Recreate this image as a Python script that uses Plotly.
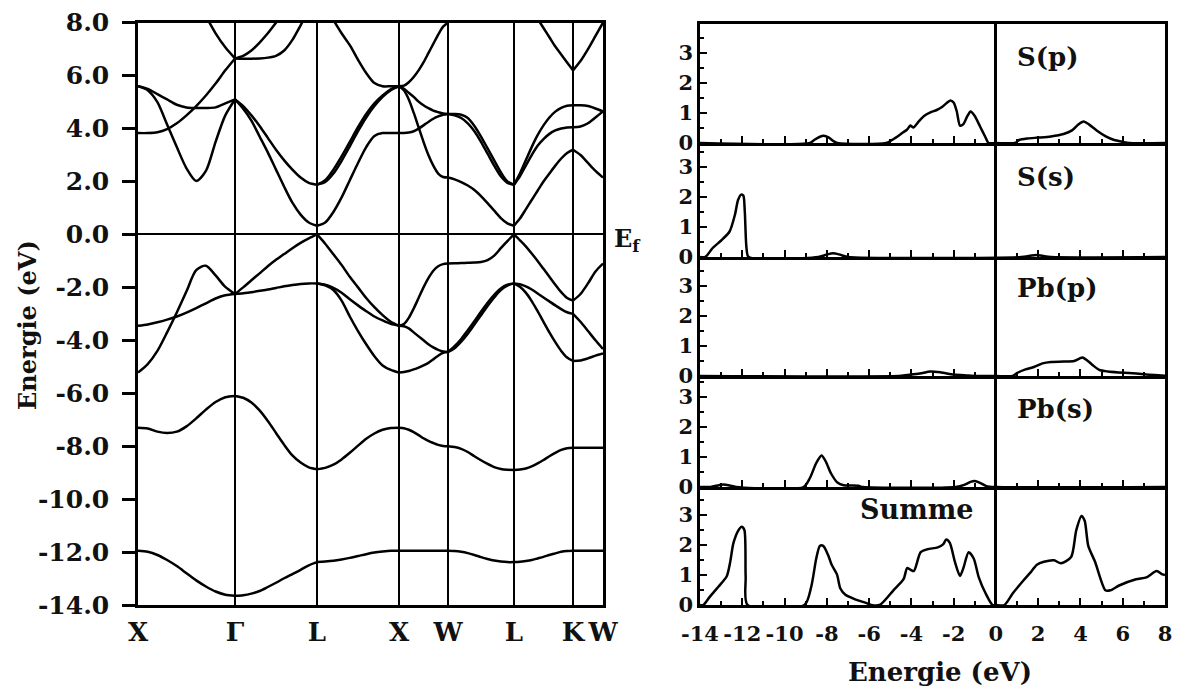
import plotly.graph_objects as go

W, H = 1184, 693
FONT = "DejaVu Serif"

# ---------------- band structure data ----------------
KLABELS = ["X", "Γ", "L", "X", "W", "L", "K", "W"]
KPOS = [0.0, 0.97, 1.79, 2.61, 3.10, 3.76, 4.35, 4.65]

F11 = [0.0, 0.1, 0.2, 0.3, 0.4, 0.5, 0.6, 0.7, 0.8, 0.9, 1.0]
F5 = [0.0, 0.25, 0.5, 0.75, 1.0]

BANDS_X_G = [
    [-11.95, -11.99, -12.11, -12.30, -12.53, -12.80, -13.07, -13.30, -13.49, -13.61, -13.65],
    [-7.30, -7.33, -7.45, -7.50, -7.45, -7.25, -6.95, -6.62, -6.33, -6.15, -6.10],
    [-5.22, -4.90, -4.40, -3.70, -2.95, -2.15, -1.35, -1.18, -1.55, -1.98, -2.25],
    [-3.45, -3.40, -3.32, -3.22, -3.10, -2.95, -2.78, -2.60, -2.42, -2.30, -2.25],
    [3.83, 3.83, 3.86, 3.98, 4.20, 4.50, 4.85, 5.25, 5.70, 6.20, 6.65],
    [5.60, 5.45, 5.00, 4.15, 3.30, 2.50, 2.02, 2.40, 3.50, 4.50, 5.10],
    [5.60, 5.50, 5.30, 5.10, 4.90, 4.80, 4.78, 4.78, 4.80, 4.95, 5.10],
    [None, None, None, None, None, None, None, 8.25, 7.60, 7.07, 6.65],
]
BANDS_G_L = [
    [-13.65, -13.63, -13.57, -13.47, -13.32, -13.16, -12.99, -12.83, -12.67, -12.50, -12.38],
    [-6.10, -6.17, -6.35, -6.65, -7.05, -7.50, -7.95, -8.35, -8.62, -8.80, -8.87],
    [-2.25, -2.00, -1.73, -1.47, -1.20, -0.96, -0.74, -0.52, -0.32, -0.15, 0.00],
    [-2.25, -2.22, -2.18, -2.13, -2.08, -2.02, -1.96, -1.91, -1.87, -1.85, -1.85],
    [5.10, 4.85, 4.50, 4.10, 3.65, 3.20, 2.80, 2.45, 2.15, 1.95, 1.88],
    [5.10, 4.75, 4.30, 3.70, 3.10, 2.45, 1.80, 1.20, 0.75, 0.45, 0.33],
    [6.65, 6.75, 6.95, 7.25, 7.60, 8.00, 8.40, None, None, None, None],
    [6.65, 6.64, 6.64, 6.65, 6.68, 6.75, 6.95, 7.35, 7.90, 8.50, None],
]
BANDS_L_X = [
    [-12.38, -12.36, -12.33, -12.28, -12.22, -12.15, -12.08, -12.02, -11.98, -11.95, -11.95],
    [-8.87, -8.82, -8.70, -8.50, -8.25, -7.98, -7.72, -7.52, -7.38, -7.31, -7.30],
    [0.00, -0.35, -0.75, -1.15, -1.60, -2.00, -2.40, -2.75, -3.05, -3.30, -3.45],
    [-1.85, -1.90, -2.02, -2.20, -2.45, -2.68, -2.90, -3.10, -3.25, -3.38, -3.45],
    [-1.85, -1.92, -2.10, -2.50, -3.10, -3.65, -4.15, -4.60, -4.95, -5.12, -5.22],
    [1.88, 2.05, 2.45, 2.95, 3.50, 4.05, 4.55, 4.95, 5.25, 5.48, 5.60],
    [1.88, 1.98, 2.30, 2.78, 3.33, 3.90, 4.42, 4.85, 5.20, 5.45, 5.60],
    [0.33, 0.45, 0.85, 1.40, 2.05, 2.70, 3.30, 3.72, 3.83, 3.83, 3.83],
    [None, None, 8.10, 7.60, 7.15, 6.60, 6.10, 5.72, 5.60, 5.60, 5.60],
]
BANDS_X_W = [
    [-11.95, -11.95, -11.95, -11.95, -11.95, -11.95, -11.95, -11.95, -11.95, -11.95, -11.95],
    [-7.30, -7.32, -7.38, -7.47, -7.58, -7.70, -7.80, -7.88, -7.95, -7.99, -8.00],
    [-3.45, -3.38, -3.15, -2.80, -2.40, -2.00, -1.65, -1.37, -1.20, -1.12, -1.10],
    [-3.45, -3.47, -3.55, -3.70, -3.85, -4.00, -4.15, -4.27, -4.36, -4.42, -4.44],
    [-5.22, -5.20, -5.16, -5.10, -5.03, -4.95, -4.85, -4.72, -4.58, -4.47, -4.44],
    [5.60, 5.62, 5.75, 5.95, 6.20, 6.50, 6.85, 7.20, 7.55, 7.85, 8.00],
    [5.60, 5.50, 5.35, 5.20, 5.02, 4.88, 4.77, 4.68, 4.62, 4.57, 4.55],
    [5.60, 5.45, 5.10, 4.60, 4.05, 3.50, 3.00, 2.60, 2.30, 2.17, 2.15],
    [3.83, 3.83, 3.85, 3.90, 4.00, 4.12, 4.25, 4.37, 4.46, 4.52, 4.55],
]
BANDS_W_L = [
    [-11.95, -11.96, -11.99, -12.04, -12.11, -12.19, -12.26, -12.32, -12.36, -12.38, -12.38],
    [-8.00, -8.03, -8.10, -8.22, -8.38, -8.53, -8.67, -8.79, -8.86, -8.89, -8.90],
    [-1.10, -1.09, -1.08, -1.07, -1.06, -1.04, -0.97, -0.80, -0.52, -0.25, 0.00],
    [-4.44, -4.30, -4.05, -3.75, -3.40, -3.05, -2.70, -2.38, -2.10, -1.93, -1.85],
    [-4.44, -4.22, -3.95, -3.62, -3.28, -2.92, -2.58, -2.28, -2.04, -1.90, -1.85],
    [4.55, 4.55, 4.52, 4.40, 4.10, 3.70, 3.25, 2.80, 2.35, 2.00, 1.88],
    [4.55, 4.50, 4.40, 4.20, 3.90, 3.50, 3.05, 2.60, 2.20, 1.95, 1.88],
    [2.15, 2.08, 1.98, 1.85, 1.68, 1.45, 1.18, 0.90, 0.62, 0.42, 0.33],
]
BANDS_L_K = [
    [-12.38, -12.37, -12.34, -12.30, -12.24, -12.18, -12.11, -12.05, -11.99, -11.96, -11.95],
    [-8.90, -8.88, -8.84, -8.76, -8.65, -8.52, -8.38, -8.25, -8.14, -8.08, -8.06],
    [0.00, -0.22, -0.45, -0.72, -1.00, -1.30, -1.60, -1.90, -2.18, -2.40, -2.50],
    [-1.85, -1.88, -1.96, -2.08, -2.23, -2.38, -2.53, -2.68, -2.82, -2.94, -3.00],
    [-1.85, -1.98, -2.20, -2.52, -2.90, -3.30, -3.70, -4.07, -4.40, -4.65, -4.78],
    [1.88, 2.30, 2.80, 3.30, 3.75, 4.12, 4.42, 4.64, 4.78, 4.86, 4.88],
    [1.88, 2.20, 2.60, 3.00, 3.35, 3.60, 3.80, 3.93, 4.00, 4.04, 4.05],
    [0.33, 0.60, 0.95, 1.30, 1.65, 2.00, 2.30, 2.60, 2.87, 3.08, 3.20],
    [None, None, None, None, 8.15, 7.80, 7.45, 7.10, 6.80, 6.50, 6.20],
]
BANDS_K_W = [
    [-11.95, -11.95, -11.95, -11.95, -11.95],
    [-8.06, -8.06, -8.06, -8.06, -8.06],
    [-2.50, -2.25, -1.85, -1.40, -1.10],
    [-3.00, -3.30, -3.65, -4.00, -4.33],
    [-4.78, -4.76, -4.68, -4.58, -4.50],
    [4.88, 4.88, 4.85, 4.76, 4.65],
    [4.05, 4.08, 4.20, 4.42, 4.65],
    [3.20, 3.00, 2.70, 2.40, 2.15],
    [6.20, 6.55, 7.00, 7.50, 8.00],
]

E_TICKS = [-14, -12, -10, -8, -6, -4, -2, 0, 2, 4, 6, 8]
E_TICKTEXT = ["-14.0", "-12.0", "-10.0", "-8.0", "-6.0", "-4.0", "-2.0", "0.0", "2.0", "4.0", "6.0", "8.0"]

# ---------------- DOS data ----------------
DOS_LABELS = ["S(p)", "S(s)", "Pb(p)", "Pb(s)", "Summe"]

SP_E = [-14, -8.8, -8.6, -8.35, -8.15, -7.9, -7.7, -7.5, -5.2, -4.8, -4.4, -4.2, -4.05, -3.9, -3.65, -3.4,
        -3.1, -2.8, -2.55, -2.3, -2.15, -2.0, -1.85, -1.7, -1.55, -1.35, -1.2, -1.0, -0.75, -0.5, -0.35,
        0.0, 0.9, 1.1, 1.5, 2.0, 2.6, 3.2, 3.6, 3.9, 4.15, 4.4, 4.8, 5.2, 5.6, 6.0, 6.3, 8.0]
SP_V = [0, 0, 0.1, 0.2, 0.24, 0.18, 0.07, 0, 0, 0.15, 0.35, 0.45, 0.58, 0.52, 0.72, 0.9,
        1.02, 1.1, 1.2, 1.35, 1.42, 1.35, 1.05, 0.58, 0.62, 0.9, 1.05, 0.9, 0.55, 0.2, 0.0,
        0, 0, 0.1, 0.15, 0.18, 0.22, 0.3, 0.42, 0.62, 0.72, 0.62, 0.4, 0.22, 0.1, 0.04, 0, 0]

SS_E = [-14, -13.75, -13.4, -13.0, -12.6, -12.35, -12.2, -12.05, -11.95, -11.88, -11.8, -11.7,
        -8.4, -8.1, -7.8, -7.6, -7.3, -7.0, 1.2, 1.6, 1.9, 2.2, 2.6, 8.0]
SS_V = [0, 0, 0.3, 0.55, 0.85, 1.4, 1.9, 2.08, 2.05, 1.5, 0.3, 0,
        0, 0.06, 0.12, 0.12, 0.06, 0, 0, 0.04, 0.07, 0.04, 0, 0]

PBP_E = [-14, -4.6, -4.2, -3.6, -3.1, -2.6, -2.0, -1.4, -0.9, 0.0, 0.8, 1.0, 1.4, 1.8, 2.2, 2.6, 3.2,
         3.7, 3.95, 4.1, 4.35, 4.6, 4.9, 5.3, 5.8, 6.3, 7.0, 7.5, 8.0]
PBP_V = [0, 0, 0.03, 0.08, 0.15, 0.12, 0.05, 0.02, 0, 0, 0, 0.1, 0.22, 0.3, 0.42, 0.47, 0.48,
         0.5, 0.58, 0.62, 0.5, 0.35, 0.2, 0.15, 0.12, 0.1, 0.06, 0.03, 0.01]

PBS_E = [-14, -13.5, -13.1, -12.9, -12.6, -12.3, -9.1, -8.8, -8.5, -8.25, -8.05, -7.8, -7.5, -7.2,
         -6.9, -6.5, -6.3, -1.9, -1.5, -1.2, -1.0, -0.75, -0.45, 0.0, 8.0]
PBS_V = [0, 0, 0.06, 0.08, 0.05, 0, 0, 0.3, 0.8, 1.05, 0.85, 0.45, 0.15, 0.06,
         0.05, 0.04, 0, 0, 0.07, 0.17, 0.2, 0.14, 0.03, 0, 0]

SUM_E = [-14, -13.84, -13.53, -13.13, -12.74, -12.58, -12.42, -12.19, -12.03, -11.9, -11.84, -11.75,
         -9.06, -8.74, -8.5, -8.33, -8.17, -7.93, -7.77, -7.52, -7.36, -7.12, -6.63, -6.15, -5.9,
         -5.5, -4.85, -4.37, -4.2, -4.05, -3.88, -3.56, -3.24, -2.75, -2.5, -2.35, -2.18, -1.94,
         -1.7, -1.54, -1.29, -1.05, -0.81, -0.49, -0.16, 0.0, 0.4, 0.8, 1.29, 1.62, 1.94, 2.27,
         2.75, 3.07, 3.56, 3.8, 4.05, 4.2, 4.37, 4.69, 5.18, 5.42, 5.83, 6.63, 7.12, 7.6, 7.88, 8.0]
SUM_V = [0, 0, 0.28, 0.61, 0.95, 1.4, 2.06, 2.48, 2.61, 2.5, 0.95, 0,
         0, 0.6, 1.55, 1.97, 1.97, 1.65, 1.34, 1.02, 0.55, 0.34, 0.18, 0.07, 0,
         0, 0.49, 0.86, 1.23, 1.18, 1.13, 1.76, 1.86, 1.92, 2.02, 2.18, 2.07, 1.44,
         0.97, 1.23, 1.76, 1.55, 0.92, 0.39, 0, 0, 0, 0.39, 0.81, 1.07, 1.34, 1.44,
         1.49, 1.39, 1.6, 2.49, 2.97, 2.81, 1.97, 1.44, 0.49, 0.49, 0.65, 0.86, 0.92, 1.13, 1.02, 1.0]

DOS_E = [SP_E, SS_E, PBP_E, PBS_E, SUM_E]
DOS_V = [SP_V, SS_V, PBP_V, PBS_V, SUM_V]
DOS_XTICKS = [-14, -12, -10, -8, -6, -4, -2, 0, 2, 4, 6, 8]
DOS_XTICKTEXT = ["-14", "-12", "-10", "-8", "-6", "-4", "-2", "0", "2", "4", "6", "8"]
DOS_YTICKS = [0, 1, 2, 3]

# ---------------- layout geometry (pixels) ----------------
def px_x(x):
    return x / W

def px_y(y):
    return 1 - y / H

BAND_X0, BAND_X1 = 138, 603
BAND_Y0, BAND_Y1 = 22.7, 605
DOS_X0, DOS_X1 = 700, 1165
PANEL_EDGES = [24, 143, 257, 376, 487, 605]
PX_PER_UNIT = 30.0

fig = go.Figure()

segments = [
    (0, F11, BANDS_X_G), (1, F11, BANDS_G_L), (2, F11, BANDS_L_X), (3, F11, BANDS_X_W),
    (4, F11, BANDS_W_L), (5, F11, BANDS_L_K), (6, F5, BANDS_K_W),
]
for idx, fr, bands in segments:
    k0, k1 = KPOS[idx], KPOS[idx + 1]
    kx = [k0 + f * (k1 - k0) for f in fr]
    for band in bands:
        fig.add_trace(go.Scatter(x=kx, y=band, mode="lines", xaxis="x", yaxis="y",
                                 line=dict(color="black", width=2.5, shape="spline", smoothing=0.8),
                                 hoverinfo="skip", showlegend=False))

fig.update_layout(
    width=W, height=H, autosize=False,
    margin=dict(l=0, r=0, t=0, b=0, pad=0),
    paper_bgcolor="white", plot_bgcolor="white",
    showlegend=False,
    xaxis=dict(domain=[px_x(BAND_X0), px_x(BAND_X1)], range=[KPOS[0], KPOS[-1]], anchor="y",
               tickmode="array", tickvals=KPOS, ticktext=KLABELS, ticks="", tickangle=0,
               showgrid=True, gridcolor="black", gridwidth=2.2, zeroline=False,
               showline=True, mirror=True, linecolor="black", linewidth=2.5,
               tickfont=dict(family=FONT, size=26, color="#111", weight="bold"),
               ticklabelstandoff=2, automargin=False),
    yaxis=dict(domain=[px_y(BAND_Y1), px_y(BAND_Y0)], range=[-14, 8], anchor="x",
               tickmode="array", tickvals=E_TICKS, ticktext=E_TICKTEXT,
               ticks="outside", ticklen=13, tickwidth=2.5, tickcolor="black",
               showgrid=False, zeroline=True, zerolinecolor="black", zerolinewidth=2.2,
               showline=True, mirror=True, linecolor="black", linewidth=2.5,
               tickfont=dict(family=FONT, size=25, color="#111", weight="bold"),
               ticklabelstandoff=8, automargin=False),
)

for i in range(5):
    n = i + 2
    xa, ya = f"x{n}", f"y{n}"
    top, bot = PANEL_EDGES[i], PANEL_EDGES[i + 1]
    yr = (bot - top) / PX_PER_UNIT
    fig.add_trace(go.Scatter(x=DOS_E[i], y=DOS_V[i], mode="lines", xaxis=xa, yaxis=ya,
                             line=dict(color="black", width=2.5, shape="spline", smoothing=0.7),
                             hoverinfo="skip", showlegend=False))
    fig.layout[f"xaxis{n}"] = dict(
        domain=[px_x(DOS_X0), px_x(DOS_X1)], range=[-14, 8], anchor=ya,
        tickmode="array", tickvals=DOS_XTICKS, ticktext=DOS_XTICKTEXT, tickangle=0,
        ticks="inside", ticklen=7, tickwidth=2, tickcolor="black",
        minor=dict(tickmode="linear", tick0=-14, dtick=1, ticks="inside", ticklen=4,
                   tickwidth=1.5, tickcolor="black"),
        showticklabels=(i == 4), showgrid=False,
        zeroline=True, zerolinecolor="black", zerolinewidth=2.5,
        showline=True, mirror=(i == 0), linecolor="black", linewidth=2.5,
        tickfont=dict(family=FONT, size=21, color="#111", weight="bold"),
        ticklabelstandoff=8, automargin=False,
    )
    fig.layout[f"yaxis{n}"] = dict(
        domain=[px_y(bot), px_y(top)], range=[0, yr], anchor=xa,
        tickmode="array", tickvals=DOS_YTICKS, ticktext=[str(v) for v in DOS_YTICKS],
        ticks="inside", ticklen=7, tickwidth=2, tickcolor="black",
        minor=dict(tickmode="linear", tick0=0, dtick=0.5, ticks="inside", ticklen=4,
                   tickwidth=1.5, tickcolor="black"),
        showgrid=False, zeroline=False,
        showline=True, mirror=True, linecolor="black", linewidth=2.5,
        tickfont=dict(family=FONT, size=21, color="#111", weight="bold"),
        automargin=False,
    )

# outward major ticks under the bottom DOS panel
fig.layout["xaxis7"] = dict(
    domain=[px_x(DOS_X0), px_x(DOS_X1)], range=[-14, 8], anchor="y6", overlaying="x6",
    side="bottom", tickmode="array", tickvals=DOS_XTICKS, ticks="outside", ticklen=6,
    tickwidth=2, tickcolor="black", showticklabels=False, showgrid=False, zeroline=False,
    showline=False, automargin=False,
)

annots = []
label_pos = [(1015, 57), (1015, 177), (1015, 288), (1015, 409)]
for (lx, ly), txt in zip(label_pos, DOS_LABELS[:4]):
    annots.append(dict(x=px_x(lx), y=px_y(ly), xref="paper", yref="paper", text=txt,
                       showarrow=False, xanchor="left", yanchor="middle",
                       font=dict(family=FONT, size=26, color="#111", weight="bold")))
annots.append(dict(x=px_x(916), y=px_y(510), xref="paper", yref="paper", text=DOS_LABELS[4],
                   showarrow=False, xanchor="center", yanchor="middle",
                   font=dict(family=FONT, size=27, color="#111", weight="bold")))
annots.append(dict(x=px_x(27), y=px_y(325), xref="paper", yref="paper", text="Energie (eV)",
                   textangle=-90, showarrow=False, xanchor="center", yanchor="middle",
                   font=dict(family=FONT, size=24, color="#111", weight="bold")))
annots.append(dict(x=px_x(940), y=px_y(672), xref="paper", yref="paper", text="Energie (eV)",
                   showarrow=False, xanchor="center", yanchor="middle",
                   font=dict(family=FONT, size=26, color="#111", weight="bold")))
annots.append(dict(x=px_x(612), y=px_y(240), xref="paper", yref="paper", text="E<sub>f</sub>",
                   showarrow=False, xanchor="left", yanchor="middle",
                   font=dict(family=FONT, size=24, color="#111", weight="bold")))
fig.update_layout(annotations=annots)

fig.write_html("out.html")
